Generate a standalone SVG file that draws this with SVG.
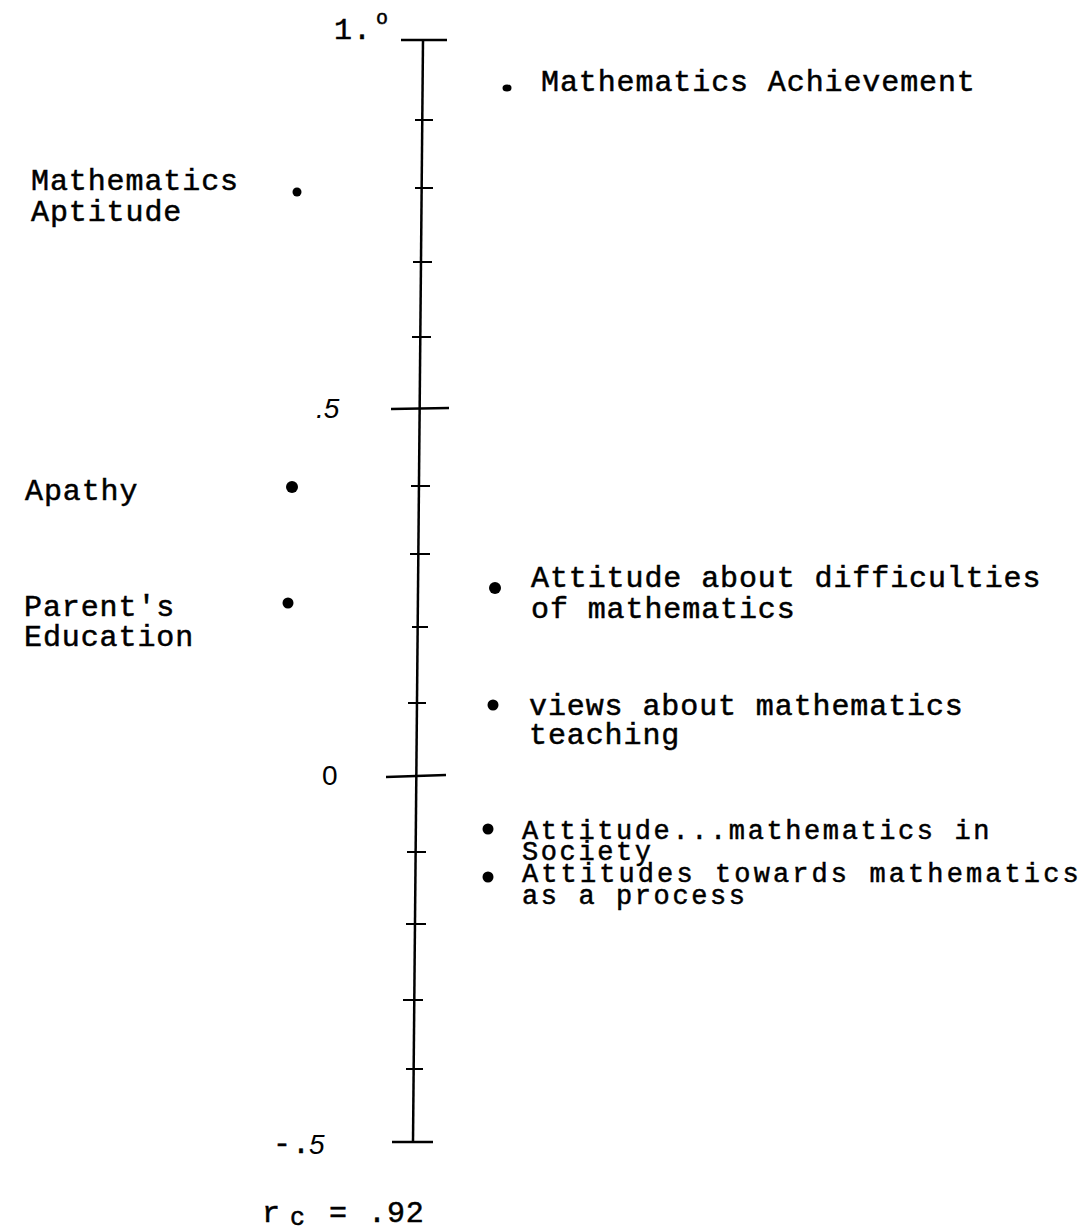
<svg xmlns="http://www.w3.org/2000/svg" width="1091" height="1232" viewBox="0 0 1091 1232">
<style>
.t{font-family:"Liberation Mono","DejaVu Sans Mono",monospace;font-size:30px;letter-spacing:0.9px;fill:#000;stroke:#000;stroke-width:0.5px}
.s{font-size:27px;letter-spacing:2.6px}
.n{font-family:"Liberation Sans",Arial,sans-serif;font-size:28px;fill:#000}
.ax{stroke:#000;stroke-width:2.5;fill:none;stroke-linecap:butt}
.tk{stroke:#000;stroke-width:2;fill:none}
.dot{fill:#000}
</style>
<rect width="1091" height="1232" fill="#fff"/>
<g id="axis">
<line class="ax" x1="423" y1="40" x2="413" y2="1142"/>
<line class="ax" x1="401" y1="40" x2="447" y2="40"/>
<line class="ax" x1="391" y1="409" x2="449" y2="408"/>
<line class="ax" x1="386" y1="777" x2="446" y2="775"/>
<line class="ax" x1="392" y1="1142" x2="433" y2="1142"/>
<g class="tk">
<line x1="415" y1="120" x2="433" y2="120"/>
<line x1="415" y1="188" x2="433" y2="188"/>
<line x1="413" y1="262" x2="432" y2="262"/>
<line x1="412" y1="337" x2="431" y2="337"/>
<line x1="411" y1="486" x2="430" y2="486"/>
<line x1="410" y1="554" x2="430" y2="554"/>
<line x1="412" y1="627" x2="428" y2="627"/>
<line x1="408" y1="703" x2="426" y2="703"/>
<line x1="407" y1="852" x2="426" y2="852"/>
<line x1="406" y1="924" x2="426" y2="924"/>
<line x1="403" y1="1000" x2="423" y2="1000"/>
<line x1="406" y1="1069" x2="423" y2="1069"/>
</g>
<text class="t" x="334" y="39">1.</text>
<text class="t" x="376" y="24" style="font-size:20px">o</text>
<text class="n" x="316" y="418" font-style="italic">.5</text>
<text class="n" x="322" y="785">0</text>
<text class="t" x="273" y="1153">-.</text>
<text class="n" x="309" y="1154" font-style="italic">5</text>
</g>
<g id="rc">
<text class="t" x="262" y="1222">r</text>
<text class="t" x="290" y="1225" style="font-size:25px">c</text>
<text class="t" x="329" y="1222">=</text>
<text class="t" x="368" y="1222">.92</text>
</g>
<g id="math-achievement">
<ellipse class="dot" cx="507" cy="88" rx="4.5" ry="3.5"/>
<text class="t" x="541" y="91">Mathematics Achievement</text>
</g>
<g id="math-aptitude">
<circle class="dot" cx="297" cy="192" r="4.5"/>
<text class="t" x="31" y="190">Mathematics</text>
<text class="t" x="31" y="221">Aptitude</text>
</g>
<g id="apathy">
<circle class="dot" cx="292" cy="487" r="6"/>
<text class="t" x="25" y="500">Apathy</text>
</g>
<g id="parents-education">
<circle class="dot" cx="288" cy="603" r="5.5"/>
<text class="t" x="24" y="616">Parent's</text>
<text class="t" x="24" y="646">Education</text>
</g>
<g id="difficulties">
<circle class="dot" cx="495" cy="588" r="6"/>
<text class="t" x="531" y="587">Attitude about difficulties</text>
<text class="t" x="531" y="618">of mathematics</text>
</g>
<g id="views-teaching">
<circle class="dot" cx="493" cy="705" r="5.5"/>
<text class="t" x="529" y="715">views about mathematics</text>
<text class="t" x="529" y="744">teaching</text>
</g>
<g id="society">
<circle class="dot" cx="488" cy="829" r="5.5"/>
<text class="t s" x="522" y="839">Attitude...mathematics in</text>
<text class="t s" x="522" y="860">Society</text>
</g>
<g id="process">
<circle class="dot" cx="488" cy="877" r="5.5"/>
<text class="t s" x="522" y="882" style="letter-spacing:3.1px">Attitudes towards mathematics</text>
<text class="t s" x="522" y="904">as a process</text>
</g>
<g id="connectors"></g>
</svg>
